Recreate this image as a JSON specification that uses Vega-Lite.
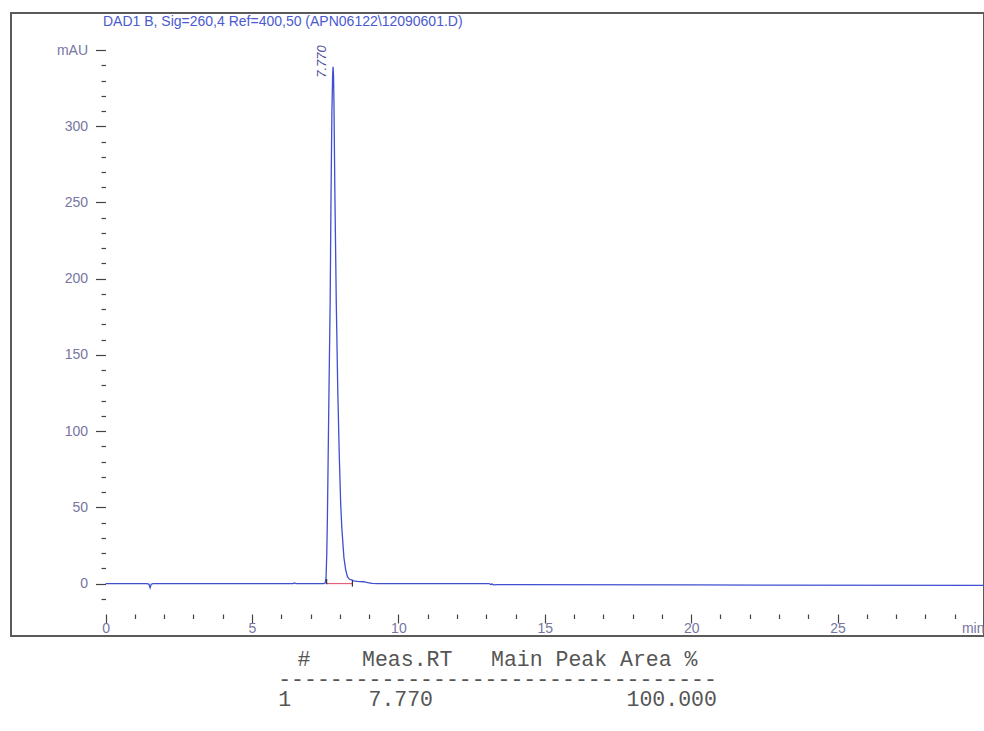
{
  "$schema": "https://vega.github.io/schema/vega-lite/v6.json",
  "background": "white",
  "padding": {"left": 10, "top": 12, "right": 0, "bottom": 0},
  "config": {"concat": {"spacing": 12}, "view": {"stroke": null}},
  "datasets": {
    "trace": [
      {"t": 0, "mAU": 0}, {"t": 1.4, "mAU": 0}, {"t": 1.48, "mAU": -0.3}, {"t": 1.52, "mAU": -2.8}, {"t": 1.56, "mAU": -0.4}, {"t": 1.62, "mAU": 0},
      {"t": 6.4, "mAU": 0}, {"t": 6.45, "mAU": 0.4}, {"t": 6.5, "mAU": 0}, {"t": 7.45, "mAU": 0}, {"t": 7.5, "mAU": 0.3}, {"t": 7.53, "mAU": 4},
      {"t": 7.555, "mAU": 20}, {"t": 7.575, "mAU": 42}, {"t": 7.6, "mAU": 80}, {"t": 7.63, "mAU": 127}, {"t": 7.67, "mAU": 185},
      {"t": 7.7, "mAU": 255}, {"t": 7.73, "mAU": 310}, {"t": 7.755, "mAU": 334}, {"t": 7.77, "mAU": 339}, {"t": 7.785, "mAU": 333},
      {"t": 7.8, "mAU": 315}, {"t": 7.83, "mAU": 258}, {"t": 7.88, "mAU": 183}, {"t": 7.93, "mAU": 127}, {"t": 7.98, "mAU": 85},
      {"t": 8.03, "mAU": 52}, {"t": 8.07, "mAU": 36}, {"t": 8.14, "mAU": 17}, {"t": 8.2, "mAU": 9}, {"t": 8.26, "mAU": 4.5},
      {"t": 8.33, "mAU": 2.8}, {"t": 8.43, "mAU": 2.2}, {"t": 8.47, "mAU": 1.8}, {"t": 8.6, "mAU": 1.5}, {"t": 8.8, "mAU": 1.2},
      {"t": 8.95, "mAU": 0.6}, {"t": 9.1, "mAU": 0.1}, {"t": 9.3, "mAU": 0}, {"t": 13.1, "mAU": 0}, {"t": 13.15, "mAU": -0.6},
      {"t": 13.2, "mAU": -0.3}, {"t": 13.25, "mAU": -0.8}, {"t": 13.4, "mAU": -0.7}, {"t": 20, "mAU": -0.9}, {"t": 30, "mAU": -1.2}
    ],
    "peaks": [{"rt": 7.77, "height": 339, "start": 7.55, "end": 8.43, "label": "7.770"}],
    "table": [
      {"n": 1, "line": "\u00a0\u00a0#\u00a0\u00a0\u00a0\u00a0Meas.RT\u00a0\u00a0\u00a0Main\u00a0Peak\u00a0Area\u00a0%\u00a0"},
      {"n": 2, "line": "----------------------------------"},
      {"n": 3, "line": "1\u00a0\u00a0\u00a0\u00a0\u00a0\u00a07.770\u00a0\u00a0\u00a0\u00a0\u00a0\u00a0\u00a0\u00a0\u00a0\u00a0\u00a0\u00a0\u00a0\u00a0\u00a0100.000"}
    ]
  },
  "vconcat": [
    {
      "width": 973,
      "height": 623,
      "view": {"stroke": "#5a5a5a", "strokeWidth": 2},
      "title": {
        "text": "DAD1 B, Sig=260,4 Ref=400,50 (APN06122\\12090601.D)",
        "anchor": "start", "frame": "group", "dx": 92, "offset": -16,
        "font": "Liberation Sans", "fontSize": 14, "fontWeight": "normal", "color": "#4a5ad2"
      },
      "layer": [
        {
          "data": {"name": "trace"},
          "mark": {"type": "line", "color": "#3f4fcf", "strokeWidth": 1.3, "interpolate": "linear"},
          "encoding": {
            "x": {
              "field": "t", "type": "quantitative",
              "scale": {"domain": [-3.23, 30], "nice": false, "zero": false},
              "axis": {
                "orient": "bottom", "offset": -22, "domain": false, "grid": false, "title": null, "tickCount": 1000, "format": "d",
                "values": [0,1,2,3,4,5,6,7,8,9,10,11,12,13,14,15,16,17,18,19,20,21,22,23,24,25,26,27,28,29,30],
                "labelExpr": "datum.value == 30 ? 'min' : (datum.value % 5 == 0 ? datum.label : '')",
                "tickSize": {"condition": {"test": "datum.value % 5 == 0", "value": 9}, "value": 4.5},
                "labelAlign": {"condition": {"test": "datum.value == 30", "value": "right"}, "value": "center"},
                "labelPadding": -2, "labelFont": "Liberation Sans", "labelFontSize": 14, "labelColor": "#7676a2",
                "tickColor": "#444444", "tickWidth": 1.2, "labelOverlap": false, "labelFlush": false
              }
            },
            "y": {
              "field": "mAU", "type": "quantitative",
              "scale": {"domain": [-34.4, 374.3], "nice": false, "zero": false},
              "axis": {
                "orient": "left", "offset": -94.5, "domain": false, "grid": false, "title": null, "tickCount": 1000, "format": "d",
                "values": [-10,0,10,20,30,40,50,60,70,80,90,100,110,120,130,140,150,160,170,180,190,200,210,220,230,240,250,260,270,280,290,300,310,320,330,340,350],
                "labelExpr": "datum.value == 350 ? 'mAU' : (datum.value % 50 == 0 && datum.value >= 0 ? datum.label : '')",
                "tickSize": {"condition": {"test": "datum.value % 50 == 0", "value": 10}, "value": 4.5},
                "labelPadding": 8, "labelFont": "Liberation Sans", "labelFontSize": 14, "labelColor": "#7676a2",
                "tickColor": "#444444", "tickWidth": 1.2, "labelOverlap": false, "labelFlush": false
              }
            }
          }
        },
        {
          "mark": {"type": "rule", "color": "#444444", "strokeWidth": 1.3},
          "encoding": {"x": {"datum": 0}, "y": {"datum": -20}, "y2": {"datum": 350}}
        },
        {
          "mark": {"type": "rule", "color": "#444444", "strokeWidth": 1.3},
          "encoding": {"x": {"datum": 0}, "x2": {"datum": 30}, "y": {"datum": -20}}
        },
        {
          "data": {"name": "peaks"},
          "mark": {"type": "rule", "color": "#e0607e", "strokeWidth": 1.2},
          "encoding": {"x": {"field": "start", "type": "quantitative"}, "x2": {"field": "end"}, "y": {"datum": 0}}
        },
        {
          "data": {"name": "peaks"},
          "mark": {"type": "rule", "color": "#333333", "strokeWidth": 1.2},
          "encoding": {"x": {"field": "start", "type": "quantitative"}, "y": {"datum": -0.5}, "y2": {"datum": 3}}
        },
        {
          "data": {"name": "peaks"},
          "mark": {"type": "rule", "color": "#333333", "strokeWidth": 1.2},
          "encoding": {"x": {"field": "end", "type": "quantitative"}, "y": {"datum": -2}, "y2": {"datum": 2}}
        },
        {
          "data": {"name": "peaks"},
          "mark": {"type": "text", "angle": 270, "align": "left", "baseline": "bottom", "dx": -11, "dy": -4,
                   "font": "Liberation Sans", "fontSize": 13, "fontStyle": "italic", "color": "#50509a"},
          "encoding": {"x": {"field": "rt", "type": "quantitative"}, "y": {"field": "height", "type": "quantitative"}, "text": {"field": "label"}}
        }
      ]
    },
    {
      "width": 973,
      "height": 60,
      "data": {"name": "table"},
      "mark": {"type": "text", "font": "Liberation Mono", "fontSize": 21.5, "color": "#555555", "align": "center"},
      "encoding": {
        "y": {"field": "n", "type": "ordinal", "axis": null, "scale": {"type": "point", "padding": 0.5}},
        "text": {"field": "line"}
      }
    }
  ]
}
